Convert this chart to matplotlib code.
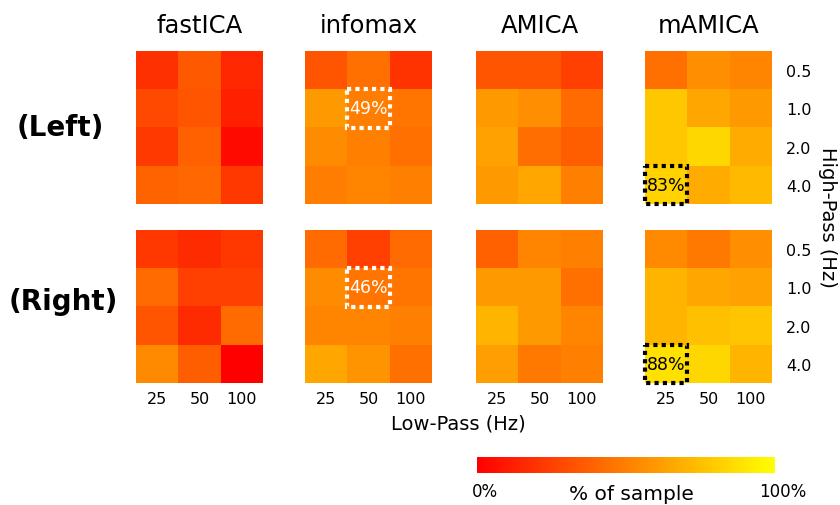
import numpy as np
import matplotlib
matplotlib.use("Agg")
import matplotlib.pyplot as plt
from matplotlib.patches import Rectangle

methods = ["fastICA", "infomax", "AMICA", "mAMICA"]
sides = ["(Left)", "(Right)"]
low_pass = ["25", "50", "100"]
high_pass = ["0.5", "1.0", "2.0", "4.0"]

# % of sample, rows = high-pass (0.5..4.0), cols = low-pass (25, 50, 100)
left_fastica = [[19, 35, 16], [29, 33, 13], [23, 38, 4], [39, 41, 22]]
left_infomax = [[33, 44, 20], [60, 49, 46], [55, 50, 44], [49, 52, 50]]
left_amica = [[33, 33, 25], [60, 56, 42], [63, 43, 37], [60, 65, 50]]
left_mamica = [[44, 56, 52], [78, 65, 60], [78, 84, 67], [83, 67, 73]]

right_fastica = [[22, 17, 22], [42, 25, 25], [33, 17, 42], [54, 37, 0]]
right_infomax = [[42, 25, 42], [55, 46, 46], [52, 52, 50], [65, 58, 44]]
right_amica = [[38, 52, 50], [60, 60, 44], [71, 60, 52], [62, 48, 50]]
right_mamica = [[54, 48, 56], [71, 65, 63], [71, 75, 77], [88, 84, 71]]

grids = [
    [left_fastica, left_infomax, left_amica, left_mamica],
    [right_fastica, right_infomax, right_amica, right_mamica],
]

# highlighted cells: (row, method, high-pass idx, low-pass idx, colour)
highlights = [
    (0, 1, 1, 1, "white"),
    (0, 3, 3, 0, "black"),
    (1, 1, 1, 1, "white"),
    (1, 3, 3, 0, "black"),
]

W, H = 840, 506
fig = plt.figure(figsize=(W / 100, H / 100), dpi=100)


def px_axes(x0, y0, x1, y1):
    return fig.add_axes([x0 / W, 1 - y1 / H, (x1 - x0) / W, (y1 - y0) / H])


col_x = [136, 305, 476, 645]
row_y = [52, 231]
pw, ph = 127, 153

axes = {}
for r in range(2):
    for c in range(4):
        ax = px_axes(col_x[c], row_y[r], col_x[c] + pw, row_y[r] + ph)
        data = np.array(grids[r][c]) / 100.0
        im = ax.imshow(data, cmap="autumn", vmin=0, vmax=1, aspect="auto")
        ax.set_xticks(range(3))
        ax.set_yticks(range(4))
        ax.tick_params(length=0, labelsize=11.5)
        ax.tick_params(axis="x", pad=6)
        ax.tick_params(axis="y", pad=10)
        if r == 1:
            ax.set_xticklabels(low_pass)
        else:
            ax.set_xticklabels([])
        if c == 3:
            ax.yaxis.tick_right()
            ax.set_yticklabels(high_pass)
        else:
            ax.set_yticklabels([])
        for s in ax.spines.values():
            s.set_visible(False)
        if r == 0:
            ax.set_title(methods[c], fontsize=17.5, pad=14)
        axes[(r, c)] = ax

for r, c, i, j, color in highlights:
    ax = axes[(r, c)]
    val = grids[r][c][i][j]
    ax.add_patch(Rectangle((j - 0.5, i - 0.5), 1, 1, fill=False,
                           edgecolor=color, linestyle=(0, (1, 1)),
                           linewidth=3, clip_on=False))
    ax.text(j, i, f"{val}%", color=color, ha="center", va="center",
            fontsize=12.5)

fig.text(60 / W, 1 - 128 / H, sides[0], fontsize=20, fontweight="bold",
         ha="center", va="center")
fig.text(63 / W, 1 - 302 / H, sides[1], fontsize=20, fontweight="bold",
         ha="center", va="center")
fig.text(828 / W, 1 - 217 / H, "High-Pass (Hz)", fontsize=14,
         rotation=-90, ha="center", va="center")
fig.text(458 / W, 1 - 424 / H, "Low-Pass (Hz)", fontsize=14,
         ha="center", va="center")

cax = px_axes(477, 458, 775, 474)
cb = fig.colorbar(im, cax=cax, orientation="horizontal")
cb.outline.set_visible(False)
cb.set_ticks([])
fig.text(485 / W, 1 - 492 / H, "0%", fontsize=12, ha="center", va="center")
fig.text(783 / W, 1 - 492 / H, "100%", fontsize=12, ha="center", va="center")
fig.text(631 / W, 1 - 495 / H, "% of sample", fontsize=14.5,
         ha="center", va="center")

fig.savefig("out.png", dpi=100)
